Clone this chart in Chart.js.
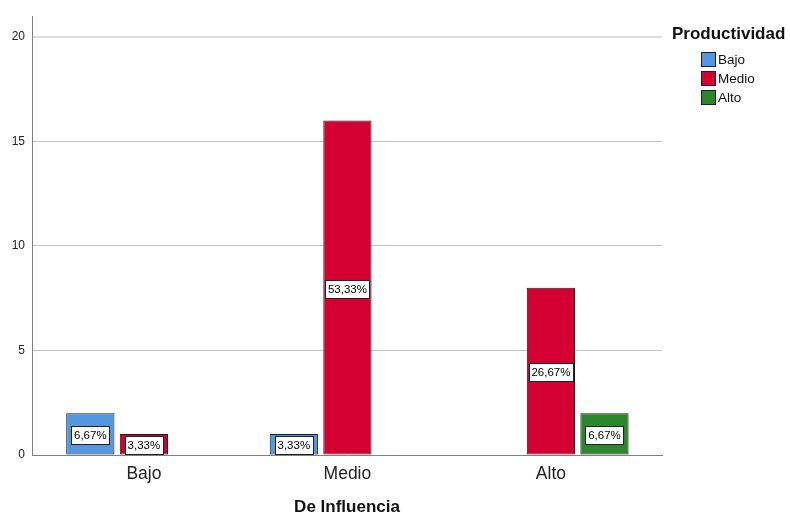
<!DOCTYPE html>
<html>
<head>
<meta charset="utf-8">
<script src="https://cdn.jsdelivr.net/npm/chart.js@4"></script>
<style>
  body { margin: 0; background: #fff; }
  canvas { display: block; }
</style>
</head>
<body>
<canvas id="grafico" width="790" height="516"></canvas>
<script>
// categorias del eje X (De Influencia) y series (Productividad)
const categorias = ['Bajo', 'Medio', 'Alto'];
const seriesNombres = ['Bajo', 'Medio', 'Alto'];
const seriesColores = ['rgb(84,150,224)', 'rgb(213,0,50)', 'rgb(44,134,44)'];

// recuentos por serie (null = sin barra)
const prodBajo = [2, 1, null];
const prodMedio = [1, 16, 8];
const prodAlto = [null, null, 2];

const ticksY = [0, 5, 10, 15, 20];
const totalCasos = 30;

const valores = [prodBajo, prodMedio, prodAlto];
const fuente = '"Liberation Sans", Arial, sans-serif';

// etiquetas de porcentaje dentro de cada barra
const etiquetasPct = {
  id: 'etiquetasPct',
  afterDatasetsDraw(chart) {
    const ctx = chart.ctx;
    ctx.save();
    ctx.font = '11.5px ' + fuente;
    ctx.textAlign = 'center';
    ctx.textBaseline = 'middle';
    chart.data.datasets.forEach((ds, i) => {
      chart.getDatasetMeta(i).data.forEach((bar, j) => {
        const v = ds.data[j].y;
        if (v === null) return;
        const txt = (v / totalCasos * 100).toFixed(2).replace('.', ',') + '%';
        const w = Math.round(ctx.measureText(txt).width + 5);
        const h = 18;
        const cy = (bar.y + bar.base) / 2 + 1;
        const x0 = Math.round(bar.x - w / 2) + 0.5;
        const y0 = Math.round(cy - h / 2) + 0.5;
        ctx.fillStyle = '#fff';
        ctx.fillRect(x0, y0, w, h);
        ctx.strokeStyle = '#222';
        ctx.lineWidth = 1;
        ctx.strokeRect(x0, y0, w, h);
        ctx.fillStyle = '#000';
        ctx.fillText(txt, bar.x, cy + 1);
      });
    });
    ctx.restore();
  }
};

// leyenda a la derecha
const leyenda = {
  id: 'leyenda',
  afterDraw(chart) {
    const ctx = chart.ctx;
    ctx.save();
    ctx.textBaseline = 'middle';
    ctx.textAlign = 'left';
    ctx.fillStyle = '#111';
    ctx.font = 'bold 17px ' + fuente;
    ctx.fillText('Productividad', 672, 34);
    ctx.font = '13.5px ' + fuente;
    seriesNombres.forEach((n, i) => {
      const y = 52 + i * 19;
      ctx.fillStyle = seriesColores[i];
      ctx.fillRect(701.5, y + 0.5, 14, 14);
      ctx.strokeStyle = '#222';
      ctx.lineWidth = 1;
      ctx.strokeRect(701.5, y + 0.5, 14, 14);
      ctx.fillStyle = '#111';
      ctx.fillText(n, 718, y + 8);
    });
    ctx.restore();
  }
};

const grafico = new Chart(document.getElementById('grafico').getContext('2d'), {
  type: 'bar',
  data: {
    datasets: valores.map((serie, i) => ({
      label: seriesNombres[i],
      data: serie.map((v, j) => ({ x: j, y: v })),
      backgroundColor: seriesColores[i],
      borderColor: '#1a1a1a',
      borderWidth: 1,
      borderSkipped: false,
      categoryPercentage: 0.79,
      barPercentage: 0.9,
    })),
  },
  options: {
    responsive: false,
    animation: false,
    layout: { padding: { top: 16, right: 128, left: 0, bottom: 0 } },
    plugins: {
      legend: { display: false },
      tooltip: { enabled: false },
    },
    scales: {
      x: {
        type: 'linear',
        offset: false,
        min: -0.55,
        max: 2.546,
        afterBuildTicks: (s) => { s.ticks = categorias.map((c, i) => ({ value: i })); },
        afterFit: (s) => { s.height = 61; },
        grid: { display: false, drawTicks: false, offset: false },
        border: { display: true, color: '#808080', width: 1 },
        ticks: {
          padding: 9,
          color: '#222',
          font: { family: fuente, size: 17.5 },
          callback: (v) => categorias[v],
        },
        title: {
          display: true,
          text: 'De Influencia',
          color: '#111',
          font: { family: fuente, size: 17, weight: 'bold', lineHeight: 1 },
          padding: { top: 0, bottom: 0 },
        },
      },
      y: {
        min: 0,
        max: 21,
        afterBuildTicks: (s) => { s.ticks = ticksY.map((v) => ({ value: v })); },
        afterFit: (s) => { s.width = 32; },
        grid: {
          drawTicks: false,
          color: (c) => (c.tick && c.tick.value === 20 ? '#dcdcdc' : '#c4c4c4'),
          lineWidth: (c) => (c.tick && c.tick.value === 20 ? 2 : 1),
        },
        border: { display: true, color: '#808080', width: 1 },
        ticks: {
          padding: 7,
          color: '#222',
          font: { family: fuente, size: 12 },
        },
      },
    },
  },
  plugins: [etiquetasPct, leyenda],
});
</script>
</body>
</html>
